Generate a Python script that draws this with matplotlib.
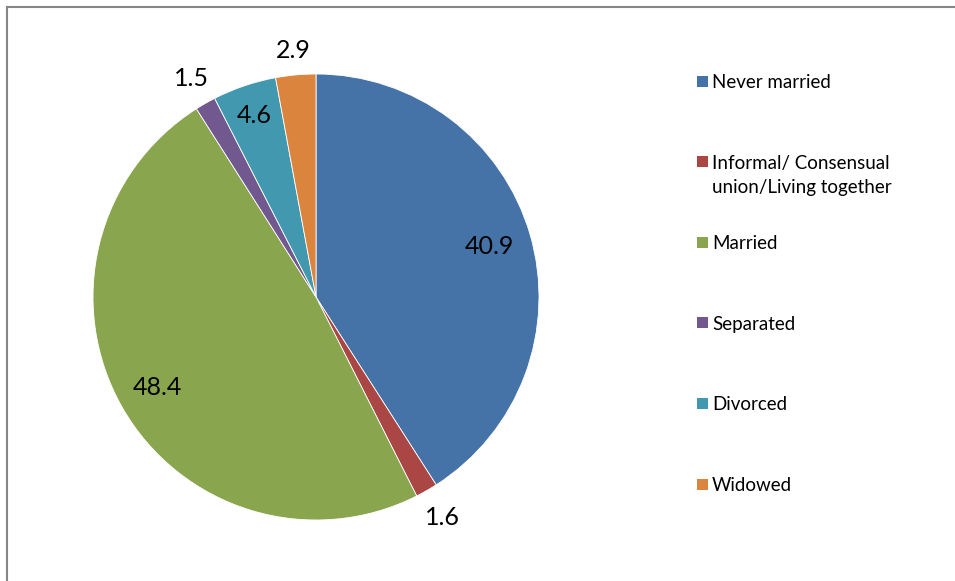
import numpy as np
import matplotlib.pyplot as plt
from matplotlib.lines import Line2D
from matplotlib.patches import Rectangle


W, H = 955, 581

labels = ['Never married', 'Informal/ Consensual\nunion/Living together',
          'Married', 'Separated', 'Divorced', 'Widowed']
values = [40.9, 1.6, 48.4, 1.5, 4.6, 2.9]
colors = ['#4572A7', '#AA4643', '#89A54E', '#71588F', '#4198AF', '#DB843D']

# radial position of each value label, as a fraction of the radius
label_dist = [0.81, 1.14, 0.82, 1.13, 0.86, 1.11]

plt.rcParams['font.family'] = ['Lato', 'DejaVu Sans']


def main():
    fig = plt.figure(figsize=(W / 100, H / 100), dpi=100)
    ax = fig.add_axes([0, 0, 1, 1])

    cx, cy, r = 316, H - 297, 223
    wedges, _ = ax.pie(values, colors=colors, startangle=90, counterclock=False,
                       center=(cx, cy), radius=r,
                       wedgeprops=dict(edgecolor='white', linewidth=0.6))

    for w, v, d in zip(wedges, values, label_dist):
        mid = np.deg2rad((w.theta1 + w.theta2) / 2)
        ax.text(cx + d * r * np.cos(mid), cy + d * r * np.sin(mid), f'{v:.1f}',
                ha='center', va='center', fontsize=18, color='black')

    # legend on the right
    for i, (lab, col) in enumerate(zip(labels, colors)):
        y = H - (81 + i * 80.6)
        ax.add_patch(Rectangle((697, y - 5.5), 11, 11, color=col, lw=0))
        ax.text(712, y + 7, lab, ha='left', va='top', fontsize=13.5,
                linespacing=1.55, color='black')

    ax.set_xlim(0, W)
    ax.set_ylim(0, H)
    ax.set_aspect('auto')
    ax.axis('off')

    # chart frame
    fig.add_artist(Line2D([7 / W, 954 / W], [1 - 7 / H, 1 - 7 / H],
                          color='#868686', lw=1.5))
    fig.add_artist(Line2D([7 / W, 7 / W], [0, 1 - 7 / H],
                          color='#868686', lw=1.5))

    fig.savefig('out.png', dpi=100)


if __name__ == "__main__":
    main()
